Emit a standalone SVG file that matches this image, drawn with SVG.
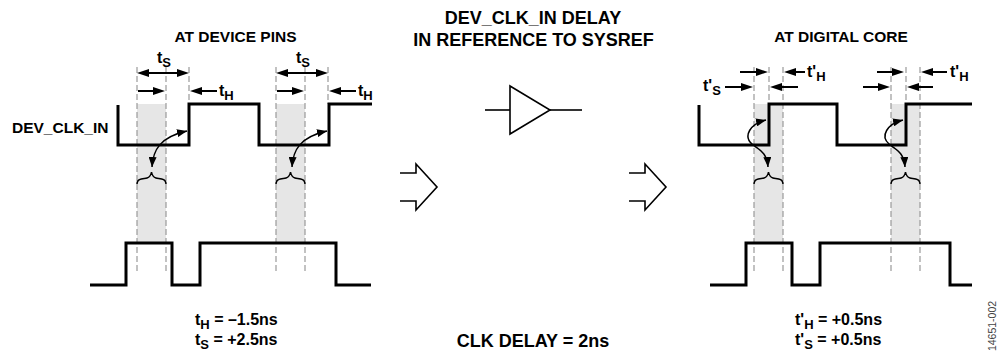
<svg xmlns="http://www.w3.org/2000/svg" width="997" height="354" viewBox="0 0 997 354">
<style>
text{font-family:"Liberation Sans",Arial,sans-serif;font-weight:bold;fill:#000}
.h1{font-size:18px;text-anchor:middle}
.h2{font-size:15.5px;text-anchor:middle}
.lbl{font-size:15.5px}
.t{font-size:16px}
.sub{font-size:13px}
.val{font-size:16px}
.wave{fill:none;stroke:#000;stroke-width:3;stroke-linejoin:miter}
.dash{stroke:#9a9a9a;stroke-width:1.2;stroke-dasharray:6,3;fill:none}
.shade{fill:#e6e6e6}
.arr{stroke:#000;stroke-width:2;fill:none;marker-end:url(#ah)}
.dbl{stroke:#000;stroke-width:2;fill:none;marker-start:url(#ah);marker-end:url(#ah)}
.curve{stroke:#000;stroke-width:1.5;fill:none;marker-start:url(#ahs);marker-end:url(#ahs)}
.brace{stroke:#000;stroke-width:1.5;fill:none}
.sym{stroke:#000;stroke-width:1.6;fill:none;stroke-linejoin:miter}
</style>
<defs>
<marker id="ah" markerUnits="userSpaceOnUse" markerWidth="12" markerHeight="8" refX="9" refY="4" orient="auto-start-reverse"><path d="M0,0 L12,4 L0,8 z" fill="#000"/></marker>
<marker id="ahs" markerUnits="userSpaceOnUse" markerWidth="10" markerHeight="8" refX="10" refY="4" orient="auto-start-reverse"><path d="M0,0 L10,4 L0,8 z" fill="#000"/></marker>
</defs>

<g id="panel-device-pins">
  <rect class="shade" x="137" y="104" width="29" height="139"/>
  <rect class="shade" x="276" y="104" width="29" height="139"/>
  <g id="guides-left">
    <line class="dash" x1="137" y1="67" x2="137" y2="273"/>
    <line class="dash" x1="166" y1="67" x2="166" y2="273"/>
    <line class="dash" x1="189" y1="67" x2="189" y2="104"/>
    <line class="dash" x1="276" y1="67" x2="276" y2="273"/>
    <line class="dash" x1="305" y1="67" x2="305" y2="273"/>
    <line class="dash" x1="328" y1="67" x2="328" y2="104"/>
  </g>
  <path id="dev-clk-left" class="wave" d="M118,105 V145 H189 V104 H259 V145 H329 V104 H372"/>
  <path id="sysref-left" class="wave" d="M90,285 H126 V243 H172 V285 H200 V243 H336 V285 H371"/>
  <path class="brace" d="M137,184 C137,178 144,179 147,178 C150,177 151,175 151.5,172 C152,175 153,177 156,178 C159,179 166,178 166,184"/>
  <path class="brace" d="M276,184 C276,178 283,179 286,178 C289,177 290,175 290.5,172 C291,175 292,177 295,178 C298,179 305,178 305,184"/>
  <text class="lbl" x="12" y="133">DEV_CLK_IN</text>
  <text class="h2" x="235.5" y="42">AT DEVICE PINS</text>
  <text class="t" x="157" y="63">t<tspan class="sub" dy="4">S</tspan></text>
  <text class="t" x="296" y="63">t<tspan class="sub" dy="4">S</tspan></text>
  <text class="t" x="219" y="96">t<tspan class="sub" dy="4">H</tspan></text>
  <text class="t" x="358" y="96">t<tspan class="sub" dy="4">H</tspan></text>
  <text class="val" x="195" y="325">t<tspan class="sub" dy="4">H</tspan><tspan dy="-4"> = –1.5ns</tspan></text>
  <text class="val" x="195" y="345">t<tspan class="sub" dy="4">S</tspan><tspan dy="-4"> = +2.5ns</tspan></text>
</g>

<g id="panel-delay">
  <text class="h1" x="533" y="24">DEV_CLK_IN DELAY</text>
  <text class="h1" x="533.5" y="46">IN REFERENCE TO SYSREF</text>
  <g id="buffer">
    <line class="sym" x1="485" y1="110" x2="510" y2="110"/>
    <path class="sym" d="M510,86 L550,110 L510,134 Z"/>
    <line class="sym" x1="550" y1="110" x2="582" y2="110"/>
  </g>
  <path id="hollow-arrow-1" class="sym" d="M400,173 H416 V164 L437,187 L416,210 V201 H400"/>
  <path id="hollow-arrow-2" class="sym" d="M629,173 H645 V164 L666,187 L645,210 V201 H629"/>
  <text class="val" x="533" y="347" style="font-size:18px;text-anchor:middle">CLK DELAY = 2ns</text>
</g>

<g id="panel-digital-core">
  <rect class="shade" x="754" y="104" width="29" height="139"/>
  <rect class="shade" x="891" y="104" width="29" height="139"/>
  <g id="guides-right">
    <line class="dash" x1="754" y1="67" x2="754" y2="273"/>
    <line class="dash" x1="769" y1="67" x2="769" y2="104"/>
    <line class="dash" x1="783" y1="67" x2="783" y2="273"/>
    <line class="dash" x1="891" y1="67" x2="891" y2="273"/>
    <line class="dash" x1="906" y1="67" x2="906" y2="104"/>
    <line class="dash" x1="920" y1="67" x2="920" y2="273"/>
  </g>
  <path id="dev-clk-right" class="wave" d="M699,105 V145 H769 V104 H837 V145 H906 V104 H972"/>
  <path id="sysref-right" class="wave" d="M710,285 H746 V243 H792 V285 H820 V243 H950 V285 H972"/>
  <path class="brace" d="M754,184 C754,178 761,179 764,178 C767,177 768,175 768.5,172 C769,175 770,177 773,178 C776,179 783,178 783,184"/>
  <path class="brace" d="M891,184 C891,178 898,179 901,178 C904,177 905,175 905.5,172 C906,175 907,177 910,178 C913,179 920,178 920,184"/>
  <text class="h2" x="841" y="42">AT DIGITAL CORE</text>
  <text class="t" x="807" y="77">t'<tspan class="sub" dy="4">H</tspan></text>
  <text class="t" x="950" y="77">t'<tspan class="sub" dy="4">H</tspan></text>
  <text class="t" x="703" y="91">t'<tspan class="sub" dy="4">S</tspan></text>
  <text class="val" x="795" y="325">t'<tspan class="sub" dy="4">H</tspan><tspan dy="-4"> = +0.5ns</tspan></text>
  <text class="val" x="795" y="345">t'<tspan class="sub" dy="4">S</tspan><tspan dy="-4"> = +0.5ns</tspan></text>
</g>

<g id="connectors">
  <line class="dbl" x1="140" y1="73" x2="186" y2="73"/>
  <line class="arr" x1="138" y1="91" x2="162" y2="91"/>
  <line class="arr" x1="217" y1="91" x2="193" y2="91"/>
  <line class="dbl" x1="279" y1="73" x2="325" y2="73"/>
  <line class="arr" x1="277" y1="91" x2="301" y2="91"/>
  <line class="arr" x1="356" y1="91" x2="332" y2="91"/>
  <path class="curve" d="M152,167 C153,150 160,137 187,131"/>
  <path class="curve" d="M292,167 C293,150 300,137 327,131"/>

  <line class="arr" x1="740" y1="72" x2="765" y2="72"/>
  <line class="arr" x1="805" y1="72" x2="787" y2="72"/>
  <line class="arr" x1="725" y1="87" x2="750" y2="87"/>
  <line class="arr" x1="798" y1="87" x2="773" y2="87"/>
  <line class="arr" x1="877" y1="72" x2="901" y2="72"/>
  <line class="arr" x1="947" y1="72" x2="924" y2="72"/>
  <line class="arr" x1="863" y1="87" x2="887" y2="87"/>
  <line class="arr" x1="933" y1="87" x2="910" y2="87"/>
  <path class="curve" d="M766,120 C750,124 743,136 752,144 C759,150 767,152 768,167"/>
  <path class="curve" d="M903,120 C887,124 880,136 889,144 C896,150 904,152 905,167"/>
</g>

<text x="996" y="326" transform="rotate(-90 996 326)" style="font-size:10.5px;font-weight:normal;fill:#444;text-anchor:middle">14651-002</text>
</svg>
